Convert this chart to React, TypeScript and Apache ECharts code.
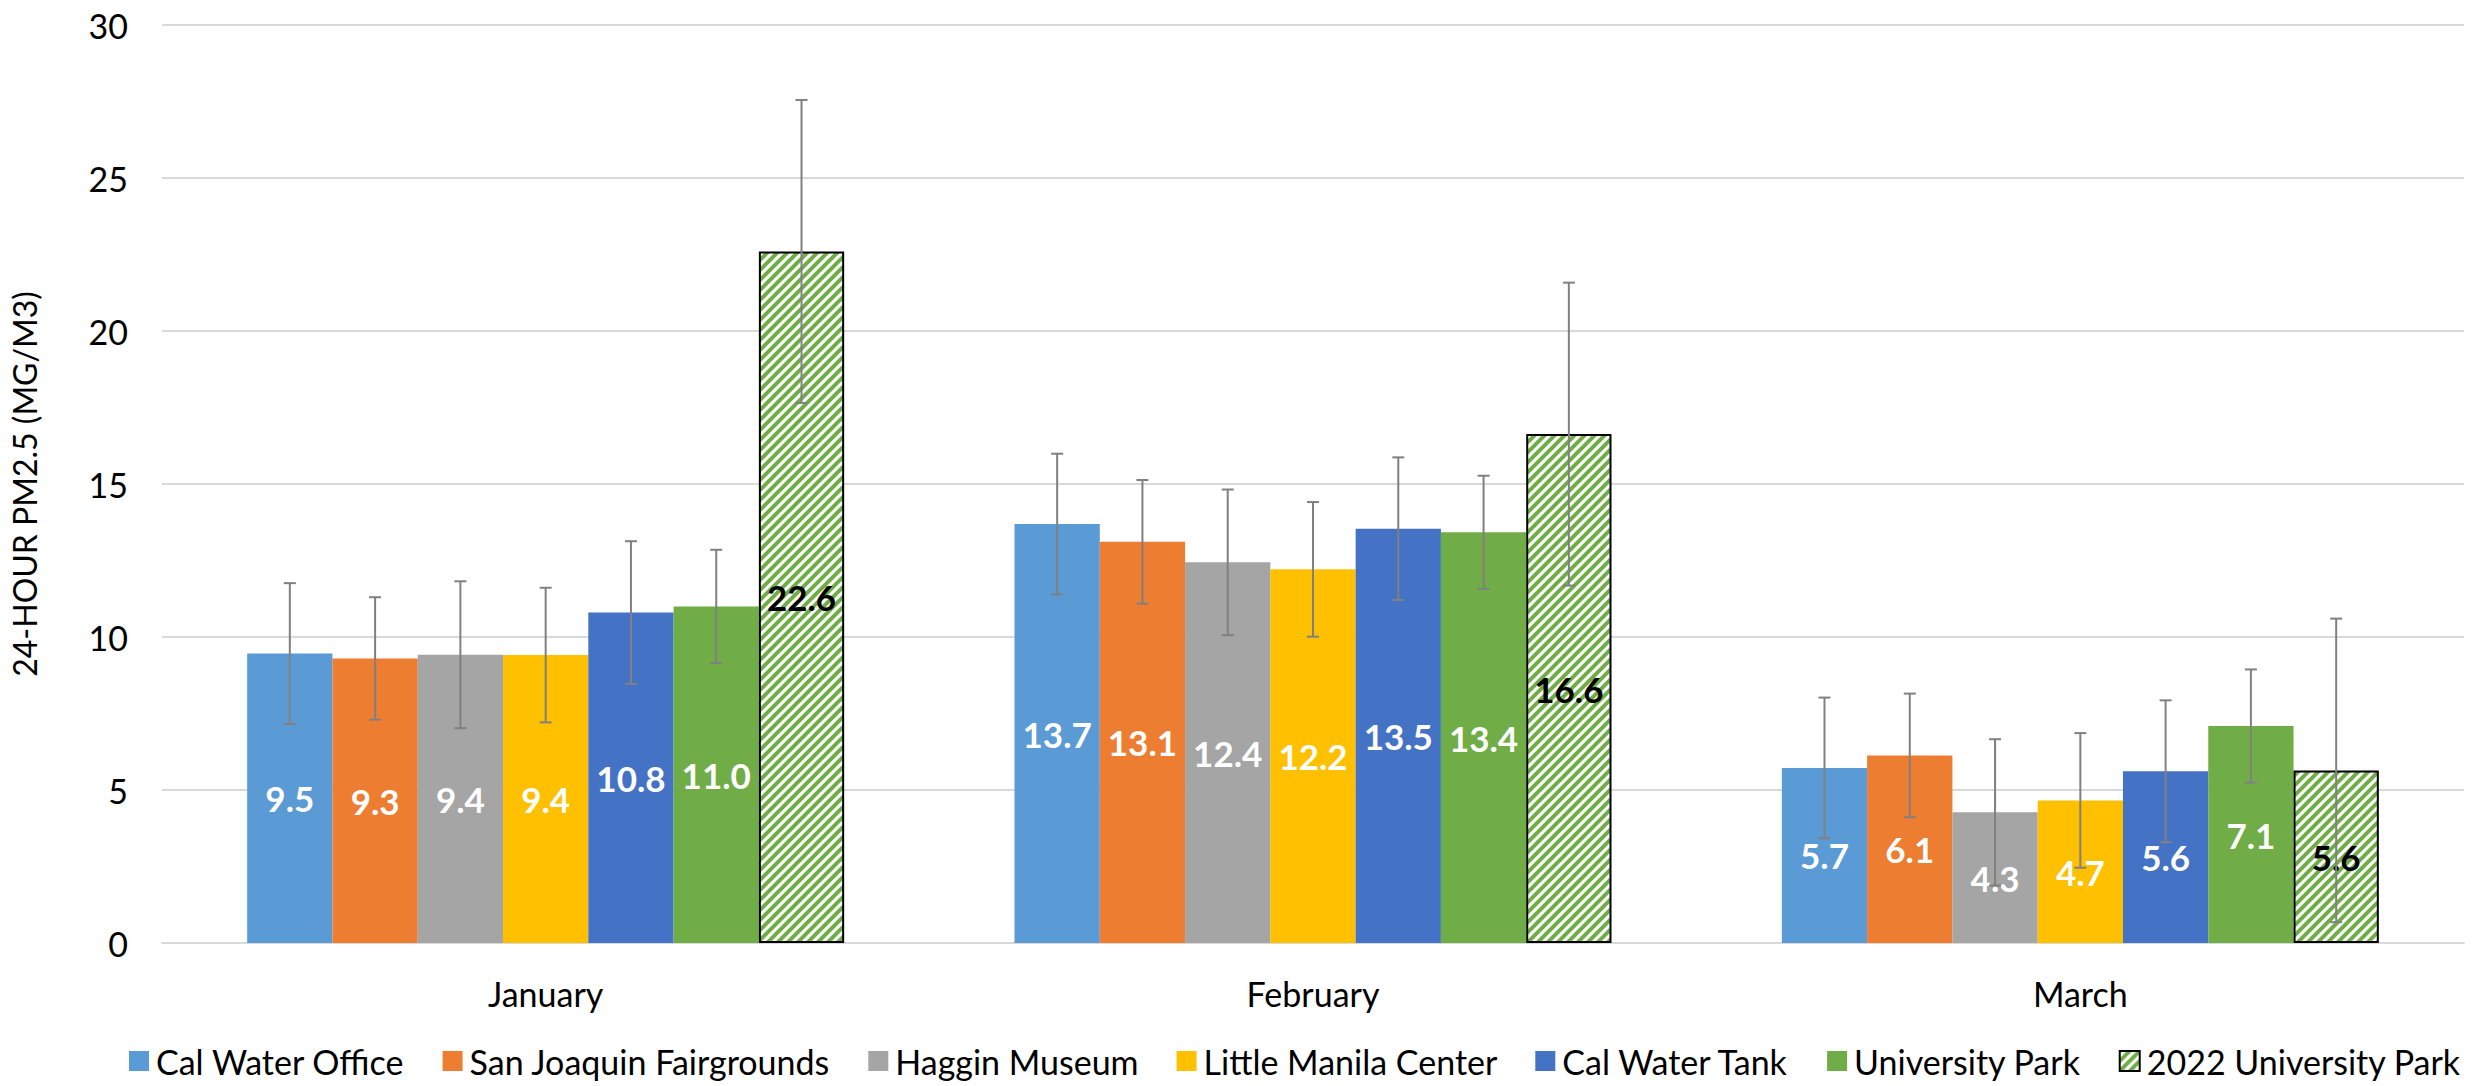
import React, { useEffect, useRef } from "react";
import * as echarts from "echarts";

const categories = ["January", "February", "March"];
const stationNames = [
  "Cal Water Office",
  "San Joaquin Fairgrounds",
  "Haggin Museum",
  "Little Manila Center",
  "Cal Water Tank",
  "University Park",
  "2022 University Park",
];

const calWaterOffice = [9.46, 13.69, 5.72];
const sanJoaquinFairgrounds = [9.3, 13.11, 6.13];
const hagginMuseum = [9.42, 12.44, 4.27];
const littleManilaCenter = [9.41, 12.21, 4.66];
const calWaterTank = [10.8, 13.54, 5.61];
const universityPark = [11.0, 13.42, 7.09];
const universityPark2022 = [22.6, 16.63, 5.64];

const calWaterOfficeErr = [2.3, 2.3, 2.3];
const sanJoaquinFairgroundsErr = [2.0, 2.02, 2.02];
const hagginMuseumErr = [2.4, 2.38, 2.39];
const littleManilaCenterErr = [2.2, 2.2, 2.2];
const calWaterTankErr = [2.33, 2.33, 2.32];
const universityParkErr = [1.85, 1.85, 1.85];
const universityPark2022Err = [4.95, 4.95, 4.96];

const yTicks = { min: 0, max: 30, interval: 5 };

const seriesValues = [
  calWaterOffice,
  sanJoaquinFairgrounds,
  hagginMuseum,
  littleManilaCenter,
  calWaterTank,
  universityPark,
  universityPark2022,
];
const seriesErrors = [
  calWaterOfficeErr,
  sanJoaquinFairgroundsErr,
  hagginMuseumErr,
  littleManilaCenterErr,
  calWaterTankErr,
  universityParkErr,
  universityPark2022Err,
];
const colors = ["#5B9BD5", "#ED7D31", "#A5A5A5", "#FFC000", "#4472C4", "#70AD47", "#70AD47"];

const FONT = "Lato";
const CAT_GAP = 0.222;

function makeHatch(): HTMLCanvasElement {
  const s = 10;
  const c = document.createElement("canvas");
  c.width = s;
  c.height = s;
  const ctx = c.getContext("2d")!;
  ctx.fillStyle = "#ffffff";
  ctx.fillRect(0, 0, s, s);
  ctx.strokeStyle = "#70AD47";
  ctx.lineWidth = 4;
  ctx.lineCap = "square";
  const lines = [
    [-s, s, s, -s],
    [0, s, s, 0],
    [0, 2 * s, 2 * s, 0],
  ];
  for (const [x1, y1, x2, y2] of lines) {
    ctx.beginPath();
    ctx.moveTo(x1, y1);
    ctx.lineTo(x2, y2);
    ctx.stroke();
  }
  return c;
}

export default function App() {
  const ref = useRef<HTMLDivElement>(null);
  useEffect(() => {
    if (!ref.current) return;
    const chart = echarts.init(ref.current, undefined, { renderer: "svg" });
    const hatch = makeHatch();
    const n = stationNames.length;

    const barSeries = stationNames.map((name, i) => {
      const hatched = i === n - 1;
      return {
        name,
        type: "bar",
        barGap: "0%",
        barCategoryGap: CAT_GAP * 100 + "%",
        data: seriesValues[i],
        itemStyle: hatched
          ? { color: { image: hatch, repeat: "repeat" }, borderColor: "#000000", borderWidth: 2 }
          : { color: colors[i] },
        label: {
          show: true,
          position: "inside",
          color: hatched ? "#000000" : "#ffffff",
          fontFamily: FONT,
          fontWeight: "bold",
          fontSize: 35,
          formatter: (p: any) => Number(p.value).toFixed(1),
        },
        z: 2,
      };
    });

    const errData: number[][] = [];
    seriesValues.forEach((vals, si) => {
      vals.forEach((v, ci) => {
        errData.push([ci, si, v, seriesErrors[si][ci]]);
      });
    });

    const errorSeries = {
      type: "custom",
      name: "errors",
      z: 10,
      silent: true,
      encode: { x: 0, y: 2 },
      data: errData,
      renderItem: (params: any, api: any) => {
        const ci = api.value(0);
        const si = api.value(1);
        const v = api.value(2);
        const e = api.value(3);
        const band = api.size([1, 0])[0];
        const groupW = band * (1 - CAT_GAP);
        const barW = groupW / n;
        const center = api.coord([ci, v]);
        const x = center[0] - groupW / 2 + barW * (si + 0.5);
        const yTop = api.coord([ci, v + e])[1];
        const yBot = api.coord([ci, v - e])[1];
        const cap = 6;
        const style = { stroke: "#808080", lineWidth: 2 };
        return {
          type: "group",
          children: [
            { type: "line", shape: { x1: x, y1: yTop, x2: x, y2: yBot }, style },
            { type: "line", shape: { x1: x - cap, y1: yTop, x2: x + cap, y2: yTop }, style },
            { type: "line", shape: { x1: x - cap, y1: yBot, x2: x + cap, y2: yBot }, style },
          ],
        };
      },
    };

    chart.setOption({
      animation: false,
      grid: { left: 151, right: 22, top: 25, bottom: 143, containLabel: false },
      legend: {
        data: stationNames,
        top: 1039,
        left: 124,
        itemWidth: 20,
        itemHeight: 20,
        itemGap: 38,
        icon: "rect",
        textStyle: { fontFamily: FONT, fontSize: 34, color: "#000000", padding: [0, 0, 0, 2] },
      },
      xAxis: {
        type: "category",
        data: categories,
        axisLine: { lineStyle: { color: "#D9D9D9", width: 2 } },
        axisTick: { show: false },
        axisLabel: { fontFamily: FONT, fontSize: 34, color: "#000000", margin: 33 },
      },
      yAxis: {
        type: "value",
        min: yTicks.min,
        max: yTicks.max,
        interval: yTicks.interval,
        name: "24-HOUR PM2.5 (MG/M3)",
        nameLocation: "middle",
        nameGap: 122,
        nameTextStyle: { fontFamily: FONT, fontSize: 32, color: "#000000" },
        axisLine: { show: false },
        axisTick: { show: false },
        splitLine: { lineStyle: { color: "#D9D9D9", width: 2 } },
        axisLabel: { fontFamily: FONT, fontSize: 34, color: "#000000", margin: 34 },
      },
      series: [...barSeries, errorSeries],
    });
    return () => chart.dispose();
  }, []);
  return (
    <div
      ref={ref}
      style={{ position: "fixed", left: 0, top: 0, width: 2486, height: 1086, background: "#ffffff" }}
    />
  );
}
